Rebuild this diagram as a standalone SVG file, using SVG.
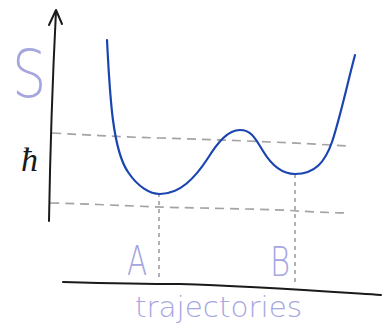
<svg xmlns="http://www.w3.org/2000/svg" width="383" height="328" viewBox="0 0 383 328">
<style>
.lbl{font-family:"DejaVu Sans","Liberation Sans",sans-serif;font-weight:200;fill:#a6a6de}
.dash{fill:none;stroke:#a4a4a4;stroke-width:1.7;stroke-dasharray:9 6}
.dot{fill:none;stroke:#a4a4a4;stroke-width:1.7;stroke-dasharray:4 4}
.axis{fill:none;stroke:#1a1a1a;stroke-width:2;stroke-linecap:round;stroke-linejoin:round}
</style>
<rect width="383" height="328" fill="#ffffff"/>
<g id="connectors">
<path class="dash" d="M52,133 C90,135 120,137 160,138 C230,140 300,143 348,146"/>
<path class="dash" d="M50,203 C100,204 140,207 200,208 C250,209 290,210 296,211 C320,212 335,213 348,213"/>
<path class="dot" d="M159,193 L159,281"/>
<path class="dot" d="M295,174 L295,286"/>
</g>
<g id="y-axis">
<path class="axis" d="M49,221 C50,160 52,90 56,11"/>
<path class="axis" d="M49,25 L56,10 L62,24"/>
</g>
<g id="x-axis">
<path class="axis" d="M63,282 C100,283 150,284 180,284 C250,286 320,291 381,295"/>
</g>
<g id="curve">
<path fill="none" stroke="#1a45b0" stroke-width="2.2" stroke-linecap="round" d="M107,40 C110,100 113,150 128,172 C138,187 150,194 160,194 C180,194 195,178 208,158 C218,142 228,130 240,130 C252,130 256,140 263,151 C272,166 283,174 295,174 C315,174 325,162 332,142 C340,118 347,85 355,55"/>
</g>
<g id="label-S"><text class="lbl" x="12" y="97" font-size="66" transform="translate(12 0) scale(0.82 1) translate(-12 0)">S</text></g>
<g id="label-hbar"><text x="21" y="171" font-family="Liberation Serif,serif" font-style="italic" font-size="34" fill="#1a1a1a">ħ</text></g>
<g id="label-A"><text class="lbl" x="127" y="275" font-size="41" transform="translate(127 0) scale(0.72 1) translate(-127 0)">A</text></g>
<g id="label-B"><text class="lbl" x="270" y="276" font-size="41" transform="translate(270 0) scale(0.75 1) translate(-270 0)">B</text></g>
<g id="label-trajectories"><text class="lbl" x="135" y="317" font-size="28" textLength="167" lengthAdjust="spacingAndGlyphs">trajectories</text></g>
</svg>
